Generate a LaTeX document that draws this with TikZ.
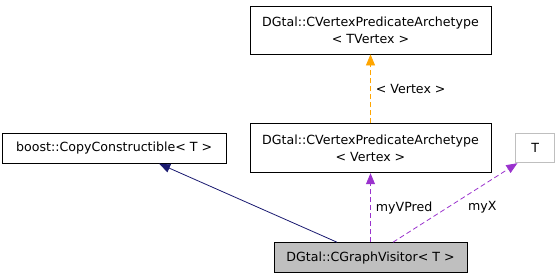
\documentclass[tikz,border=0pt]{standalone}
\usepackage{fontspec}
\setmainfont{DejaVu Sans}
\usepackage{xcolor}
\definecolor{ink}{HTML}{000000}
\definecolor{grayline}{HTML}{BFBFBF}
\definecolor{selfc}{HTML}{BFBFBF}
\definecolor{inheritc}{HTML}{191970}
\definecolor{usagec}{HTML}{9A32CD}
\definecolor{templc}{HTML}{FFA500}
\usetikzlibrary{arrows.meta,positioning}

\begin{document}
\begin{tikzpicture}[x=1pt,y=1pt,node distance=69pt and 24pt,every node/.style={font=\fontsize{12.6}{16}\selectfont}]
\tikzstyle{cls}=[draw=ink,line width=0.8pt,fill=white,minimum width=241pt,minimum height=48pt,align=center,inner sep=0pt]
\tikzstyle{lbl}=[anchor=west,inner sep=0pt,text=ink]
\tikzstyle{rel}=[-{Triangle[length=11pt,width=9pt]},line width=0.8pt]
\useasboundingbox (0,0) rectangle (560,-277);
\node[cls] (archT) at (370.5,-30) {DGtal::CVertexPredicateArchetype\\[1pt]< TVertex >};
\node[cls,minimum height=49pt,below=of archT] (archV) {DGtal::CVertexPredicateArchetype\\[1pt]< Vertex >};
\node[cls,draw=grayline,minimum width=39pt,minimum height=29pt,right=24pt of archV] (tee) {T};
\node[cls,minimum width=224pt,minimum height=30pt,left=23pt of archV] (copyc) {boost::CopyConstructible< T >};
\node[cls,fill=selfc,minimum width=193pt,minimum height=30pt,below=of archV] (visitor) {DGtal::CGraphVisitor< T >};
% edges
\draw[rel,inheritc] ([xshift=-33.5pt]visitor.north)--([xshift=45pt]copyc.south);
\draw[rel,usagec,dash pattern=on 5pt off 3pt] (visitor.north)--(archV.south) node[lbl,pos=0.5,xshift=5pt] {myVPred};
\draw[rel,usagec,dash pattern=on 5pt off 3pt] ([xshift=22.5pt]visitor.north)--([xshift=2pt]tee.south west);
\node[lbl] (myx) at (468,-207) {myX};
\draw[rel,templc,dash pattern=on 5pt off 3pt] (archV.north)--(archT.south) node[lbl,pos=0.5,xshift=5pt] {< Vertex >};
\end{tikzpicture}
\end{document}
